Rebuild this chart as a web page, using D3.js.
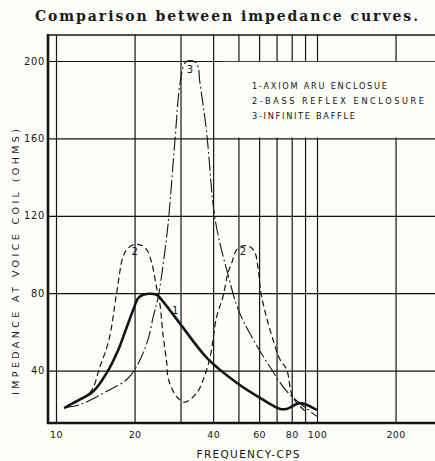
<!DOCTYPE html>
<html><head><meta charset="utf-8">
<script src="https://cdn.jsdelivr.net/npm/d3@7"></script>
<style>
html,body{margin:0;padding:0;background:#fdfdfa;}
svg{display:block;}
</style></head><body>
<script>
// ---------- data ----------
const titleText = "Comparison between impedance curves.";
const xTitle = "FREQUENCY-CPS";
const yTitle = "IMPEDANCE AT VOICE COIL (OHMS)";
const xTickValues = [10, 20, 30, 40, 50, 60, 70, 80, 90, 100, 200];
const xTickLabels = ["10", "20", "", "40", "", "60", "", "80", "", "100", "200"];
const yTickValues = [40, 80, 120, 160, 200];
const yTickLabels = ["40", "80", "120", "160", "200"];
const legendLabels = ["1-AXIOM ARU ENCLOSUE", "2-BASS REFLEX ENCLOSURE", "3-INFINITE BAFFLE"];

// curve 1 : Axiom ARU enclosure (thick solid)
const axiomFreq = [10.83, 12.0, 13.9, 15.64, 17.33, 18.22, 19.77, 20.67, 21.6, 22.92, 24.31, 25.41, 29.87, 38.07, 49.38, 60.47, 72.15, 76.55, 86.07, 99.1];
const axiomImp  = [20.9, 24.2, 29.3, 38.8, 50.8, 58.6, 71.5, 77.5, 79.2, 79.7, 79.2, 76.6, 64.3, 46.2, 33.6, 25.9, 20.2, 20.2, 23.2, 19.9];

// curve 2 : bass reflex enclosure (dashed)
const reflexFreq = [10.83, 13.49, 14.74, 15.96, 17.08, 18.05, 18.66, 19.72, 20.98, 22.26, 23.26, 24.38, 25.03, 25.7, 26.56, 26.98, 29.0, 31.21, 34.69, 36.67, 38.9, 41.28, 43.63, 45.6, 47.13, 49.25, 52.06, 55.38, 57.87, 59.58, 60.85, 63.21, 66.05, 72.15, 76.55, 80.91, 91.55];
const reflexImp  = [20.9, 28.6, 42.1, 56.0, 80.3, 98.8, 102.5, 105.0, 105.0, 102.5, 95.7, 81.8, 74.1, 58.6, 44.1, 35.4, 26.6, 23.7, 28.6, 35.4, 46.7, 67.9, 78.2, 90.6, 95.7, 102.5, 104.5, 104.0, 100.9, 92.1, 81.0, 70.6, 61.2, 45.7, 40.5, 26.1, 18.3];

// curve 3 : infinite baffle (dash-dot)
const baffleFreq = [10.83, 12.36, 15.64, 18.66, 20.38, 22.42, 23.6, 24.66, 25.77, 26.86, 28.57, 29.87, 31.21, 32.62, 34.6, 35.62, 37.8, 40.06, 41.76, 45.08, 49.94, 57.0, 67.8, 77.4, 99.7];
const baffleImp  = [20.9, 22.4, 29.3, 35.4, 42.2, 55.2, 68.0, 78.3, 95.6, 115.4, 159.2, 188.5, 199.1, 200.2, 198.8, 188.5, 162.7, 124.8, 110.2, 92.1, 71.5, 56.0, 39.5, 28.6, 16.4];

// curve number annotations (frequency, impedance)
const curveLabelText = ["2", "2", "3", "1"];
const curveLabelFreq = [20.0, 52.0, 32.6, 28.6];
const curveLabelImp  = [101.5, 101.5, 195.5, 71.0];

// ---------- drawing ----------
const W = 435, H = 461;
const bg = "#fdfdfa", ink = "#141414";
const pLeft = 48, pRight = 435, pTop = 35, pBottom = 423;

const svg = d3.select("body").append("svg").attr("width", W).attr("height", H);
svg.append("rect").attr("width", W).attr("height", H).attr("fill", bg);

const x = d3.scaleLog().domain([10, 100]).range([56, 317]);
const y = d3.scaleLinear().domain([0, 200]).range([448, 61]);

// title
svg.append("text").attr("x", 35).attr("y", 21)
  .attr("font-family", "DejaVu Serif").attr("font-weight", "bold").attr("font-size", 14)
  .attr("textLength", 383).attr("lengthAdjust", "spacing")
  .attr("fill", "#1a1a1a").text(titleText);

// vertical grid + x labels
const gx = svg.append("g").attr("transform", `translate(0,${pBottom})`)
  .call(d3.axisBottom(x).tickValues(xTickValues).tickSize(-(pBottom - pTop)).tickPadding(8)
    .tickFormat((d, i) => xTickLabels[i]));
gx.select(".domain").remove();
gx.selectAll(".tick line").attr("stroke", ink).attr("stroke-width", 1.2);
gx.selectAll(".tick text").attr("font-family", "DejaVu Sans").attr("font-size", 9.5)
  .attr("letter-spacing", 0.4).attr("fill", ink);

// horizontal grid + y labels
const gy = svg.append("g").attr("transform", `translate(${pLeft},0)`)
  .call(d3.axisLeft(y).tickValues(yTickValues).tickSize(-(pRight - pLeft)).tickPadding(3)
    .tickFormat((d, i) => yTickLabels[i]));
gy.select(".domain").remove();
gy.selectAll(".tick line").attr("stroke", ink).attr("stroke-width", 1.2);
gy.selectAll(".tick text").attr("font-family", "DejaVu Sans").attr("font-size", 9.8)
  .attr("letter-spacing", 0.8).attr("fill", ink);

// legend box (interrupts the grid)
svg.append("rect").attr("x", 221).attr("y", y(200) + 0.8).attr("width", W - 221)
  .attr("height", y(160) - y(200) - 1.6).attr("fill", bg);
const legend = svg.append("g");
const legendLen = [135, 172, 103];
legendLabels.forEach((t, i) => {
  legend.append("text").attr("x", 252).attr("y", 89 + i * 15)
    .attr("font-family", "DejaVu Sans").attr("font-size", 8.2)
    .attr("textLength", legendLen[i]).attr("lengthAdjust", "spacing")
    .attr("fill", ink).text(t);
});

// curves
const line = d3.line().x(d => x(d[0])).y(d => y(d[1])).curve(d3.curveCatmullRom.alpha(0.5));
const zip = (a, b) => a.map((v, i) => [v, b[i]]);

svg.append("path").datum(zip(baffleFreq, baffleImp)).attr("d", line)
  .attr("fill", "none").attr("stroke", ink).attr("stroke-width", 1.1)
  .attr("stroke-dasharray", "14,3,1.8,3");
svg.append("path").datum(zip(reflexFreq, reflexImp)).attr("d", line)
  .attr("fill", "none").attr("stroke", ink).attr("stroke-width", 1.2)
  .attr("stroke-dasharray", "6,3.5");
svg.append("path").datum(zip(axiomFreq, axiomImp)).attr("d", line)
  .attr("fill", "none").attr("stroke", ink).attr("stroke-width", 2.6)
  .attr("stroke-linejoin", "round").attr("stroke-linecap", "round");

// curve number labels
curveLabelText.forEach((t, i) => {
  svg.append("text").attr("x", x(curveLabelFreq[i])).attr("y", y(curveLabelImp[i]))
    .attr("text-anchor", "middle").attr("dominant-baseline", "central")
    .attr("font-family", "DejaVu Sans").attr("font-size", 10).attr("fill", ink).text(t);
});

// frame
svg.append("line").attr("x1", pLeft).attr("x2", pLeft).attr("y1", pTop - 1).attr("y2", pBottom + 1)
  .attr("stroke", ink).attr("stroke-width", 2.6);
svg.append("line").attr("x1", pLeft - 1).attr("x2", pRight).attr("y1", pBottom).attr("y2", pBottom)
  .attr("stroke", ink).attr("stroke-width", 2.6);
svg.append("line").attr("x1", pLeft - 1).attr("x2", pRight).attr("y1", pTop).attr("y2", pTop)
  .attr("stroke", ink).attr("stroke-width", 1.6);

// axis titles
svg.append("text").attr("x", 248).attr("y", 458).attr("text-anchor", "middle")
  .attr("font-family", "DejaVu Sans").attr("font-size", 10.5)
  .attr("textLength", 103).attr("lengthAdjust", "spacing").attr("fill", ink).text(xTitle);
svg.append("text").attr("transform", "translate(18.5,262) rotate(-90)").attr("text-anchor", "middle")
  .attr("font-family", "DejaVu Sans").attr("font-size", 9.5)
  .attr("textLength", 266).attr("lengthAdjust", "spacing").attr("fill", ink).text(yTitle);
</script>
</body></html>
